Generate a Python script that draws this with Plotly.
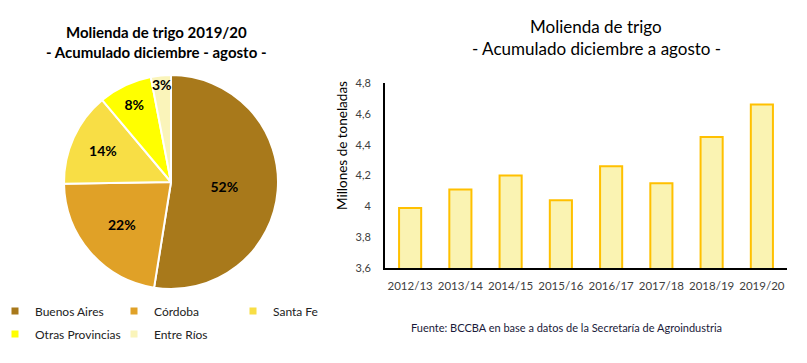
import plotly.graph_objects as go

# Pie data
provincias = ["Buenos Aires", "Córdoba", "Santa Fe", "Otras Provincias", "Entre Ríos"]
participacion = [52, 22, 14, 8, 3]
colores_pie = ["#A8791B", "#E0A127", "#F8DE45", "#FFFF00", "#FAF4BA"]

# Bar data
campanas = ["2012/13", "2013/14", "2014/15", "2015/16", "2016/17", "2017/18", "2018/19", "2019/20"]
molienda = [3.99, 4.11, 4.20, 4.04, 4.26, 4.15, 4.45, 4.66]
y_ticks = [3.6, 3.8, 4.0, 4.2, 4.4, 4.6, 4.8]
y_tick_labels = ["3,6", "3,8", "4", "4,2", "4,4", "4,6", "4,8"]

FONT = "Lato"
W, H = 807, 363
OX, OY = 8, 8  # page body offset


def px(p):
    return (p - OX) / W


def py(p):
    return 1 - (p - OY) / H


fig = go.Figure()

fig.add_trace(go.Bar(
    x=campanas,
    y=molienda,
    marker=dict(color="#FAF3B2", line=dict(color="#FFC000", width=2)),
    xaxis="x", yaxis="y",
    showlegend=False,
))

fig.add_trace(go.Pie(
    labels=provincias,
    values=participacion,
    sort=False,
    direction="clockwise",
    rotation=0,
    marker=dict(colors=colores_pie, line=dict(color="white", width=2)),
    texttemplate="%{value}%",
    textposition="inside",
    insidetextorientation="horizontal",
    textfont=dict(family=FONT, size=14, color="black", weight="bold"),
    domain=dict(x=[px(64), px(278)], y=[py(289), py(75)]),
    showlegend=False,
    hoverinfo="label+percent",
))

# Legend entries for the pie (two rows, three columns)
for i, (name, col) in enumerate(zip(provincias, colores_pie)):
    fig.add_trace(go.Scatter(
        x=[None], y=[None], mode="markers", name=name,
        marker=dict(symbol="square", size=7, color=col),
        legend="legend" if i < 3 else "legend2",
        xaxis="x", yaxis="y", hoverinfo="skip",
    ))

legend_common = dict(
    orientation="h",
    x=px(-5), xanchor="left",
    yanchor="middle",
    entrywidth=74, entrywidthmode="pixels",
    font=dict(size=12, color="#222", family=FONT),
    itemwidth=30,
    traceorder="normal",
    bgcolor="rgba(0,0,0,0)",
)

fig.update_layout(
    width=W, height=H,
    margin=dict(l=0, r=0, t=0, b=0, autoexpand=False),
    paper_bgcolor="white",
    plot_bgcolor="white",
    font=dict(family=FONT, color="#333"),
    bargap=0.56,
    uniformtext=dict(minsize=14, mode="show"),
    xaxis=dict(
        type="category",
        categoryorder="array", categoryarray=campanas,
        domain=[px(385), px(787)],
        anchor="y", automargin=False,
        showline=True, linecolor="black", linewidth=2,
        showgrid=False, ticks="",
        tickfont=dict(size=11.5, color="#404040", family=FONT),
        ticklabelstandoff=6,
    ),
    yaxis=dict(
        domain=[py(268), py(83)],
        anchor="x", automargin=False,
        range=[3.6, 4.8],
        tickvals=y_ticks, ticktext=y_tick_labels,
        showline=True, linecolor="black", linewidth=2,
        showgrid=False, ticks="", zeroline=False,
        tickfont=dict(size=11, color="#404040", family=FONT),
        ticklabelstandoff=10,
    ),
    legend=dict(legend_common, y=py(311)),
    legend2=dict(legend_common, y=py(334)),
    annotations=[
        dict(text="<b>Molienda de trigo 2019/20</b>", x=px(156), y=py(32), xref="paper", yref="paper",
             showarrow=False, font=dict(size=15, color="black", family=FONT), xanchor="center", yanchor="middle"),
        dict(text="<b>- Acumulado diciembre - agosto -</b>", x=px(156), y=py(52), xref="paper", yref="paper",
             showarrow=False, font=dict(size=15, color="black", family=FONT), xanchor="center", yanchor="middle"),
        dict(text="Molienda de trigo", x=px(596), y=py(27), xref="paper", yref="paper",
             showarrow=False, font=dict(size=17, color="black", family=FONT), xanchor="center", yanchor="middle"),
        dict(text="- Acumulado diciembre a agosto -", x=px(596), y=py(48), xref="paper", yref="paper",
             showarrow=False, font=dict(size=17, color="black", family=FONT), xanchor="center", yanchor="middle"),
        dict(text="Millones de toneladas", x=px(342), y=py(146), xref="paper", yref="paper",
             showarrow=False, textangle=-90, font=dict(size=13.5, color="black", family=FONT),
             xanchor="center", yanchor="middle"),
        dict(text="Fuente: BCCBA en base a datos de la Secretaría de Agroindustria", x=px(566), y=py(327),
             xref="paper", yref="paper", showarrow=False,
             font=dict(size=11, color="#1a1a3a", family=FONT), xanchor="center", yanchor="middle"),
    ],
)

fig.write_html("out.html")
